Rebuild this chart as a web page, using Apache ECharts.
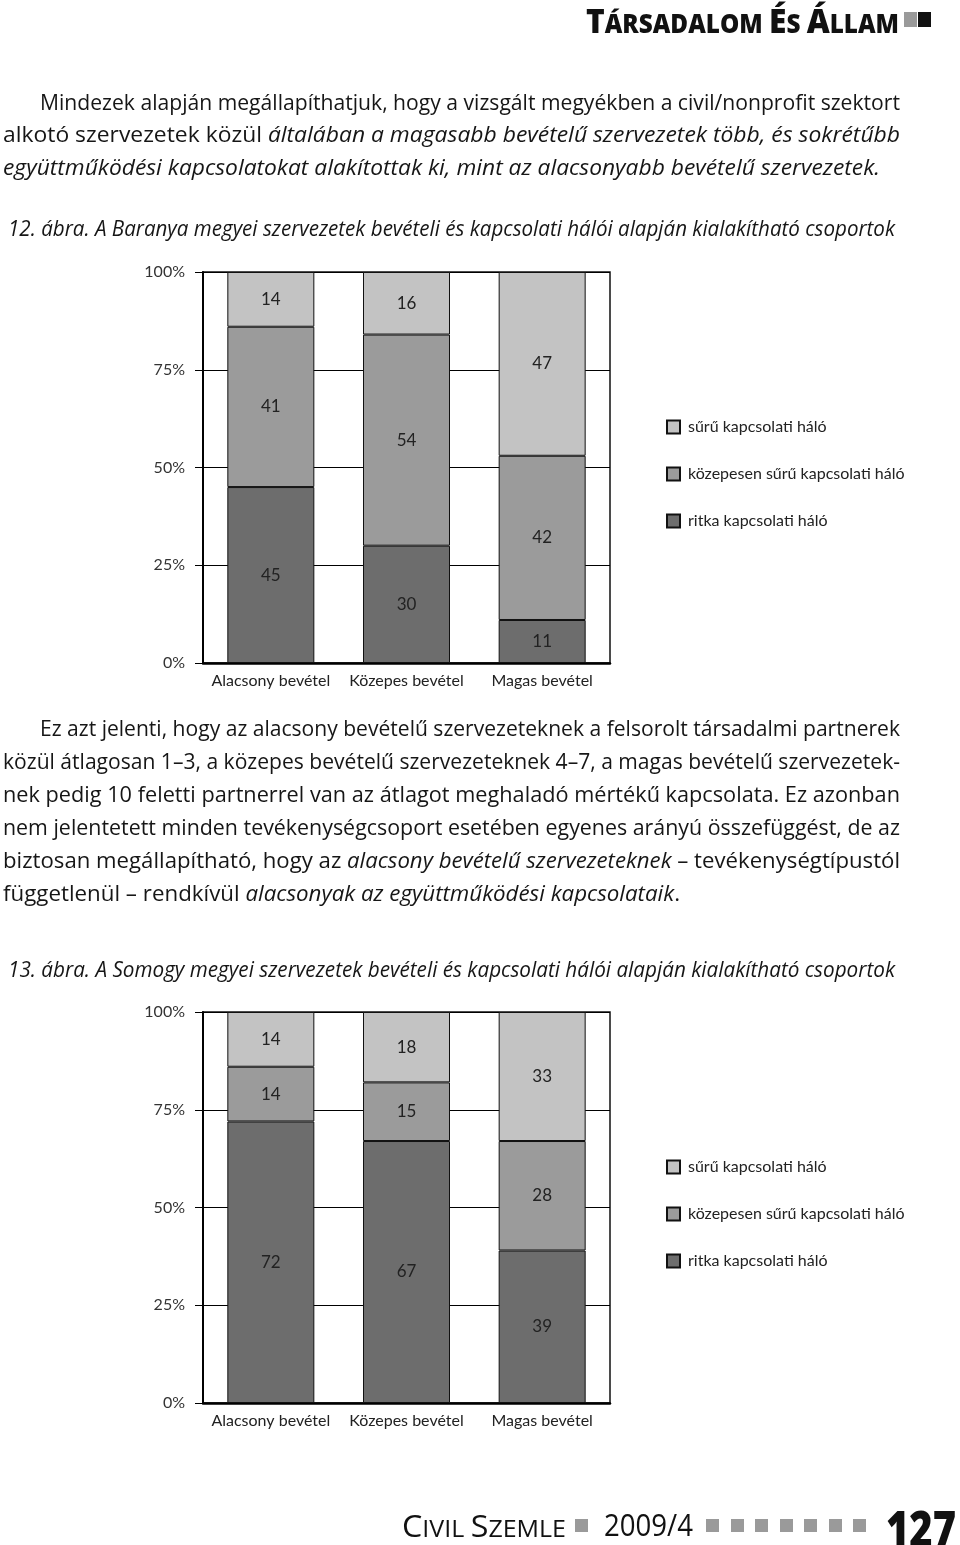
<!DOCTYPE html>
<html><head><meta charset="utf-8">
<script src="https://cdn.jsdelivr.net/npm/echarts@6/dist/echarts.min.js"></script>
<style>
html,body{margin:0;padding:0;background:#fff;}
#page{position:relative;width:960px;height:1545px;overflow:hidden;background:#fff;}
#chart{position:absolute;left:0;top:0;width:960px;height:1545px;}
#txt{position:absolute;left:0;top:0;width:960px;height:1545px;pointer-events:none;}
.ln{position:absolute;white-space:nowrap;font-family:'Open Sans','Noto Sans',sans-serif;font-size:22px;line-height:28px;height:28px;color:#161616;transform-origin:0 50%;}
.hd{position:absolute;white-space:nowrap;font-family:'Open Sans','Noto Sans',sans-serif;color:#111;transform-origin:0 100%;line-height:1;}
.sq{position:absolute;}
</style></head><body>
<div id="page"><div id="chart"></div><div id="txt"></div></div>
<script>
// ---- chart data ----
const categories = ['Alacsony bevétel', 'Közepes bevétel', 'Magas bevétel'];
const seriesNames = ['sűrű kapcsolati háló', 'közepesen sűrű kapcsolati háló', 'ritka kapcsolati háló'];
const yTickLabels = ['0%', '25%', '50%', '75%', '100%'];
const baranyaRitka = [45, 30, 11];
const baranyaKozepes = [41, 54, 42];
const baranyaSuru = [14, 16, 47];
const somogyRitka = [72, 67, 39];
const somogyKozepes = [14, 15, 28];
const somogySuru = [14, 18, 33];

// ---- page text ----
const headerText = ['T', 'ÁRSADALOM ', 'É', 'S ', 'Á', 'LLAM'];
const footerTitle = ['C', 'IVIL ', 'S', 'ZEMLE'];
const footerIssue = '2009/4';
const pageNumber = '127';
const textLines = [
  'Mindezek alapján megállapíthatjuk, hogy a vizsgált megyékben a civil/nonprofit szektort',
  'alkotó szervezetek közül <i>általában a magasabb bevételű szervezetek több, és sokrétűbb</i>',
  '<i>együttműködési kapcsolatokat alakítottak ki, mint az alacsonyabb bevételű szervezetek.</i>',
  '<i>12. ábra. A Baranya megyei szervezetek bevételi és kapcsolati hálói alapján kialakítható csoportok</i>',
  'Ez azt jelenti, hogy az alacsony bevételű szervezeteknek a felsorolt társadalmi partnerek',
  'közül átlagosan 1–3, a közepes bevételű szervezeteknek 4–7, a magas bevételű szervezetek-',
  'nek pedig 10 feletti partnerrel van az átlagot meghaladó mértékű kapcsolata. Ez azonban',
  'nem jelentetett minden tevékenységcsoport esetében egyenes arányú összefüggést, de az',
  'biztosan megállapítható, hogy az <i>alacsony bevételű szervezeteknek</i> – tevékenységtípustól',
  'függetlenül – rendkívül <i>alacsonyak az együttműködési kapcsolataik</i>.',
  '<i>13. ábra. A Somogy megyei szervezetek bevételi és kapcsolati hálói alapján kialakítható csoportok</i>'
];
// layout for the text lines: [left, right, centerY]
const lineLayout = [
  [40, 900, 101], [3, 900, 133], [3, 880, 166], [8, 895, 227],
  [40, 900, 727], [3, 900, 760], [3, 900, 793], [3, 900, 826], [3, 900, 859], [3, 680, 892],
  [8, 895, 968]
];

const txt = document.getElementById('txt');
function fitDiv(d, x0, x1) {
  const w = d.getBoundingClientRect().width;
  d.style.transform = 'scaleX(' + ((x1 - x0) / w) + ')';
}
textLines.forEach((t, i) => {
  const [x0, x1, yc] = lineLayout[i];
  const d = document.createElement('div');
  d.className = 'ln';
  d.innerHTML = t;
  d.style.left = x0 + 'px';
  d.style.top = (yc - 14) + 'px';
  txt.appendChild(d);
  fitDiv(d, x0, x1);
});

// header
(function () {
  const d = document.createElement('div');
  d.className = 'hd';
  d.style.fontWeight = '800';
  d.innerHTML = headerText.map((s, i) => '<span style="font-size:' + (i % 2 === 0 ? 34 : 26) + 'px">' + s + '</span>').join('');
  d.style.left = '586px';
  d.style.top = '3px';
  txt.appendChild(d);
  fitDiv(d, 586, 899);
  const s1 = document.createElement('div'); s1.className = 'sq';
  s1.style.cssText = 'left:904px;top:12px;width:13px;height:15px;background:#9a9a9a;';
  const s2 = document.createElement('div'); s2.className = 'sq';
  s2.style.cssText = 'left:918px;top:12px;width:13px;height:15px;background:#111;';
  txt.appendChild(s1); txt.appendChild(s2);
})();

// footer
(function () {
  const d = document.createElement('div');
  d.className = 'hd';
  d.style.fontWeight = '400';
  d.innerHTML = footerTitle.map((s, i) => '<span style="font-size:' + (i % 2 === 0 ? 31 : 24) + 'px">' + s + '</span>').join('');
  d.style.left = '402px';
  d.style.top = '1510px';
  txt.appendChild(d);
  fitDiv(d, 402, 566);
  const sq0 = document.createElement('div'); sq0.className = 'sq';
  sq0.style.cssText = 'left:575px;top:1519px;width:13px;height:13px;background:#9a9a9a;';
  txt.appendChild(sq0);
  const y = document.createElement('div');
  y.className = 'hd';
  y.style.cssText += 'font-size:31px;font-weight:400;left:604px;top:1509px;';
  y.textContent = footerIssue;
  txt.appendChild(y);
  fitDiv(y, 604, 693);
  for (let k = 0; k < 7; k++) {
    const q = document.createElement('div'); q.className = 'sq';
    q.style.cssText = 'left:' + (706 + k * 24.5) + 'px;top:1519px;width:13px;height:13px;background:#9a9a9a;';
    txt.appendChild(q);
  }
  const p = document.createElement('div');
  p.className = 'hd';
  p.style.cssText += 'font-size:50px;font-weight:800;left:886px;top:1503px;';
  p.textContent = pageNumber;
  txt.appendChild(p);
  fitDiv(p, 886, 956);
})();

// ---- chart ----
const F = "Lato,'Open Sans',sans-serif";
const colors = ['#c3c3c3', '#9b9b9b', '#6d6d6d'];
const chart = echarts.init(document.getElementById('chart'), null, { renderer: 'canvas' });

function gridDef(top) {
  return { left: 203, top: top, width: 407, height: 391, show: true, borderColor: '#111', borderWidth: 1.5, backgroundColor: 'transparent' };
}
function xAxisDef(idx) {
  return {
    gridIndex: idx, type: 'category', data: categories,
    axisLine: { show: true, lineStyle: { color: '#000', width: 2.5 } },
    axisTick: { show: false },
    axisLabel: { fontSize: 16, color: '#222', margin: 10, fontFamily: F, interval: 0, hideOverlap: false }
  };
}
function yAxisDef(idx) {
  return {
    gridIndex: idx, type: 'value', min: 0, max: 100, interval: 25,
    axisLine: { show: true, lineStyle: { color: '#000', width: 2 } },
    axisTick: { show: true, length: 8, lineStyle: { color: '#000', width: 1 } },
    splitLine: { show: true, lineStyle: { color: '#000', width: 1 } },
    axisLabel: { fontSize: 16, color: '#333', margin: 18, fontFamily: F,
      formatter: v => yTickLabels[Math.round(v / 25)] }
  };
}
function seriesFor(idx, ritka, kozepes, suru) {
  const vals = [suru, kozepes, ritka];
  const out = [];
  for (let k = 2; k >= 0; k--) {
    out.push({
      type: 'bar', name: seriesNames[k], stack: 'st' + idx,
      xAxisIndex: idx, yAxisIndex: idx, barWidth: 87,
      data: vals[k],
      itemStyle: { color: colors[k], borderColor: '#111', borderWidth: 1 },
      label: { show: true, position: 'inside', fontSize: 17, color: '#222', fontFamily: F },
      emphasis: { disabled: true }, animation: false
    });
  }
  return out;
}
function legendDef(top) {
  return {
    orient: 'vertical', left: 666, top: top, padding: 0, itemWidth: 13, itemHeight: 13, itemGap: 31,
    icon: 'rect', data: seriesNames,
    textStyle: { fontSize: 16, color: '#222', fontFamily: F, padding: [0, 0, 0, 3] },
    selectedMode: false
  };
}

chart.setOption({
  animation: false,
  grid: [gridDef(272), gridDef(1012)],
  xAxis: [xAxisDef(0), xAxisDef(1)],
  yAxis: [yAxisDef(0), yAxisDef(1)],
  legend: [legendDef(419), legendDef(1159)],
  series: seriesFor(0, baranyaRitka, baranyaKozepes, baranyaSuru)
    .concat(seriesFor(1, somogyRitka, somogyKozepes, somogySuru))
});
</script>
</body></html>
